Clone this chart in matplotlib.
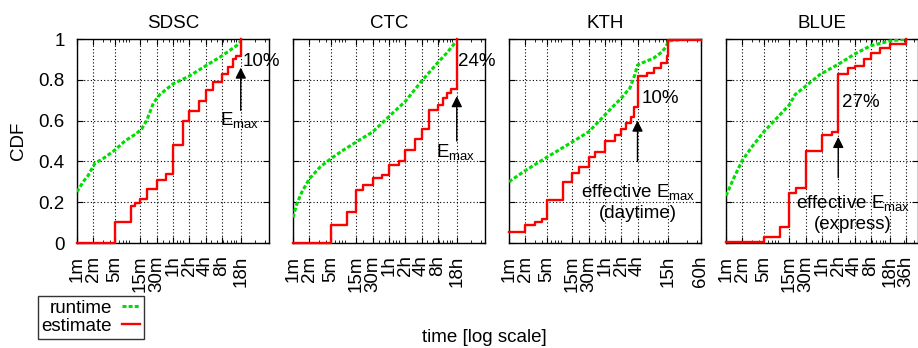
import matplotlib
matplotlib.use("Agg")
import matplotlib.pyplot as plt
from matplotlib.lines import Line2D
from matplotlib.ticker import FixedLocator, LogLocator, NullFormatter

plt.rcParams['font.family'] = ['Liberation Sans', 'DejaVu Sans']
plt.rcParams['mathtext.fontset'] = 'custom'
plt.rcParams['mathtext.rm'] = 'Liberation Sans'

# time values are in minutes, CDF in [0, 1]
TITLES = ["SDSC", "CTC", "KTH", "BLUE"]

SDSC_RUN_T = [1, 1.3, 1.6, 1.8, 2.15, 3.3, 5, 7.7, 12.7, 15.8, 19.5, 26, 34, 60, 120, 240, 480, 900, 1080]
SDSC_RUN_CDF = [0.25, 0.30, 0.33, 0.355, 0.39, 0.42, 0.455, 0.50, 0.537, 0.56, 0.60, 0.686, 0.727, 0.78, 0.818, 0.868, 0.917, 0.967, 0.99]
SDSC_EST_T = [1, 5, 10, 12, 15, 20, 30, 45, 60, 90, 120, 180, 240, 330, 480, 630, 780, 900, 1080]
SDSC_EST_CDF = [0, 0.105, 0.18, 0.195, 0.215, 0.265, 0.31, 0.34, 0.48, 0.60, 0.645, 0.695, 0.75, 0.79, 0.83, 0.865, 0.90, 0.915, 1.0]

CTC_RUN_T = [1, 1.17, 1.45, 2, 3.16, 5, 8.5, 15, 30, 60, 120, 240, 480, 720, 960, 1080]
CTC_RUN_CDF = [0.125, 0.19, 0.248, 0.314, 0.372, 0.413, 0.455, 0.496, 0.545, 0.62, 0.694, 0.793, 0.884, 0.934, 0.975, 0.985]
CTC_EST_T = [1, 5, 10, 15, 20, 30, 45, 60, 90, 120, 180, 240, 330, 480, 600, 720, 840, 1080]
CTC_EST_CDF = [0, 0.088, 0.154, 0.26, 0.285, 0.32, 0.335, 0.38, 0.40, 0.455, 0.51, 0.56, 0.65, 0.678, 0.71, 0.735, 0.755, 1.0]

KTH_RUN_T = [1, 2, 5, 15, 30, 60, 85, 120, 174, 215, 240, 300, 470, 670, 800, 900, 1500, 3600]
KTH_RUN_CDF = [0.30, 0.355, 0.42, 0.496, 0.545, 0.628, 0.67, 0.71, 0.76, 0.826, 0.872, 0.884, 0.905, 0.935, 0.96, 0.99, 0.997, 1.0]
KTH_EST_T = [1, 2, 3, 4, 5, 10, 15, 20, 30, 40, 60, 90, 120, 150, 180, 210, 240, 360, 480, 660, 840, 900, 3600]
KTH_EST_CDF = [0.053, 0.088, 0.104, 0.119, 0.212, 0.298, 0.344, 0.372, 0.421, 0.446, 0.50, 0.529, 0.559, 0.587, 0.62, 0.669, 0.818, 0.835, 0.86, 0.884, 0.917, 0.995, 0.995]

BLUE_RUN_T = [1, 1.37, 2, 3.2, 5, 8.7, 15, 19, 30, 55, 120, 240, 480, 1080, 2160]
BLUE_RUN_CDF = [0.231, 0.314, 0.405, 0.48, 0.545, 0.612, 0.678, 0.727, 0.769, 0.826, 0.876, 0.926, 0.967, 0.99, 1.0]
BLUE_EST_T = [1, 5, 10, 15, 20, 30, 60, 90, 120, 180, 240, 360, 480, 720, 1080, 2160]
BLUE_EST_CDF = [0.003, 0.03, 0.079, 0.245, 0.268, 0.452, 0.53, 0.545, 0.826, 0.86, 0.87, 0.90, 0.93, 0.955, 0.975, 1.0]

SDSC_TICKS = ["1m", "2m", "5m", "15m", "30m", "1h", "2h", "4h", "8h", "18h"]
CTC_TICKS = ["1m", "2m", "5m", "15m", "30m", "1h", "2h", "4h", "8h", "18h"]
KTH_TICKS = ["1m", "2m", "5m", "15m", "30m", "1h", "2h", "4h", "15h", "60h"]
BLUE_TICKS = ["1m", "2m", "5m", "15m", "30m", "1h", "2h", "4h", "8h", "18h", "36h"]

PCT_LABELS = ["10%", "24%", "10%", "27%"]
EMAX_LINES = [["E$_{\\mathrm{max}}$"], ["E$_{\\mathrm{max}}$"],
              ["effective E$_{\\mathrm{max}}$", "(daytime)"],
              ["effective E$_{\\mathrm{max}}$", "(express)"]]
EMAX_T = [1080, 1080, 240, 120]  # where the arrow points


def to_minutes(lbl):
    if lbl.endswith("h"):
        return float(lbl[:-1]) * 60
    return float(lbl[:-1])


panels = [
    (SDSC_RUN_T, SDSC_RUN_CDF, SDSC_EST_T, SDSC_EST_CDF, SDSC_TICKS),
    (CTC_RUN_T, CTC_RUN_CDF, CTC_EST_T, CTC_EST_CDF, CTC_TICKS),
    (KTH_RUN_T, KTH_RUN_CDF, KTH_EST_T, KTH_EST_CDF, KTH_TICKS),
    (BLUE_RUN_T, BLUE_RUN_CDF, BLUE_EST_T, BLUE_EST_CDF, BLUE_TICKS),
]

# annotation layout: pct text (x, y), arrow (y_from, y_to), label (x, y of first line)
ANN = [
    dict(pct=(1150, 0.89), arrow=(0.65, 0.86), lab=(1044, 0.60)),
    dict(pct=(1150, 0.89), arrow=(0.50, 0.72), lab=(1043, 0.44)),
    dict(pct=(290, 0.71), arrow=(0.40, 0.60), lab=(245, 0.245)),
    dict(pct=(141, 0.69), arrow=(0.32, 0.52), lab=(225, 0.19)),
]

W, H = 918, 348
fig = plt.figure(figsize=(W / 100, H / 100), dpi=100)
lefts = [77, 293, 509, 726]
top_px, bot_px, width_px = 39, 243, 192
GREEN = '#00dd00'
RED = '#ff0000'
FS = 13.5
GREEN_LS = (0, (1.3, 0.7))

for i, (rt, rc, et, ec, ticks) in enumerate(panels):
    ax = fig.add_axes([lefts[i] / W, 1 - bot_px / H, width_px / W, (bot_px - top_px) / H])
    ax.set_xscale('log')
    ax.set_xlim(1, 3600)
    ax.set_ylim(0, 1)

    ax.plot(rt, rc, color=GREEN, lw=2.2, linestyle=GREEN_LS, zorder=3)
    ax.plot(et, ec, color=RED, lw=1.7, drawstyle='steps-post', zorder=4, clip_on=False)

    tick_pos = [to_minutes(t) for t in ticks]
    ax.xaxis.set_major_locator(FixedLocator(tick_pos))
    ax.set_xticklabels(ticks, rotation=90, fontsize=FS)
    ax.xaxis.set_minor_locator(LogLocator(base=10, subs=range(2, 10)))
    ax.xaxis.set_minor_formatter(NullFormatter())
    ax.set_yticks([0, 0.2, 0.4, 0.6, 0.8, 1])
    if i == 0:
        ax.set_yticklabels(["0", "0.2", "0.4", "0.6", "0.8", "1"], fontsize=FS)
        ax.set_ylabel("CDF", fontsize=FS, labelpad=8)
    else:
        ax.set_yticklabels([])
    ax.tick_params(which='major', direction='in', length=4, top=True, right=True, pad=9)
    ax.tick_params(which='minor', direction='in', length=2, top=True)
    ax.grid(True, which='major', color='black', linestyle=(0, (1, 2)), lw=0.8)
    for s in ax.spines.values():
        s.set_linewidth(1.0)
    ax.set_title(TITLES[i], fontsize=FS, pad=8)

    a = ANN[i]
    ax.text(a['pct'][0], a['pct'][1], PCT_LABELS[i], fontsize=FS, ha='left', va='center')
    ax.annotate('', xy=(EMAX_T[i], a['arrow'][1]), xytext=(EMAX_T[i], a['arrow'][0]),
                arrowprops=dict(arrowstyle='-|>', color='black', lw=1.0, mutation_scale=16,
                                shrinkA=0, shrinkB=0), annotation_clip=False)
    for k, line in enumerate(EMAX_LINES[i]):
        ax.text(a['lab'][0], a['lab'][1] - 0.1 * k, line, fontsize=FS, ha='center', va='center',
                clip_on=False)

handles = [Line2D([], [], color=GREEN, lw=2.2, linestyle=GREEN_LS),
           Line2D([], [], color=RED, lw=1.7)]
leg = fig.legend(handles, ["runtime", "estimate"], loc='upper left',
                 bbox_to_anchor=(38 / W, 1 - 296 / H), markerfirst=False, frameon=True,
                 fancybox=False, edgecolor='black', fontsize=FS, handlelength=1.0,
                 borderpad=0.2, labelspacing=0.05, handletextpad=0.5, borderaxespad=0)
leg.get_frame().set_linewidth(1.0)

fig.text(484 / W, 1 - 337 / H, "time [log scale]", fontsize=FS, ha='center', va='center')

fig.savefig("out.png", dpi=100)
